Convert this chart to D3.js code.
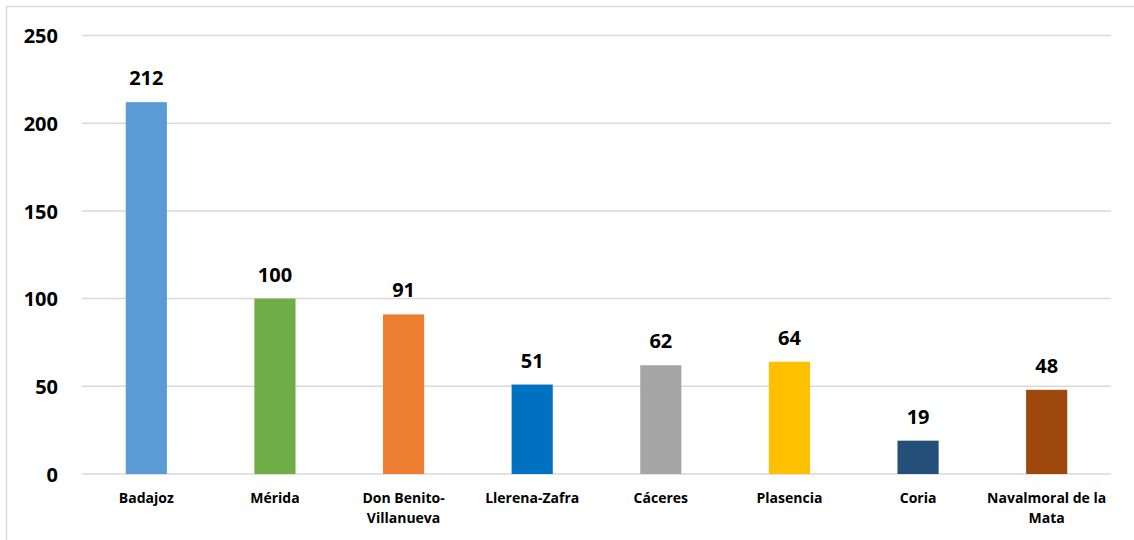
<!DOCTYPE html>
<html>
<head>
<meta charset="utf-8">
<script src="https://cdn.jsdelivr.net/npm/d3@7/dist/d3.min.js"></script>
<style>
  body { margin: 0; background: #fff; }
  svg { display: block; font-family: "Open Sans", sans-serif; }
</style>
</head>
<body>
<svg id="chart"></svg>
<script>
var categories = ['Badajoz', 'Mérida', 'Don Benito-Villanueva', 'Llerena-Zafra', 'Cáceres', 'Plasencia', 'Coria', 'Navalmoral de la Mata'];
var labelLines = [['Badajoz'], ['Mérida'], ['Don Benito-', 'Villanueva'], ['Llerena-Zafra'], ['Cáceres'], ['Plasencia'], ['Coria'], ['Navalmoral de la', 'Mata']];
var values = [212, 100, 91, 51, 62, 64, 19, 48];
var colors = ['#5B9BD5', '#70AD47', '#ED7D31', '#0070C0', '#A5A5A5', '#FFC000', '#234F79', '#9E480E'];
var yTicks = [0, 50, 100, 150, 200, 250];

var W = 1134, H = 540;
var margin = {top: 35.5, right: 23, bottom: 66, left: 82};

var svg = d3.select('#chart')
	.attr('width', W)
	.attr('height', H);

// chart frame (only left and top visible in the original)
svg.append('rect')
	.attr('x', 6.5).attr('y', 6.5)
	.attr('width', W + 20).attr('height', H + 20)
	.attr('fill', 'none')
	.attr('stroke', '#D9D9D9')
	.attr('stroke-width', 1.5);

var x = d3.scaleBand()
	.domain(categories)
	.range([margin.left, W - margin.right])
	.paddingInner(0.68)
	.paddingOuter(0.34);

var y = d3.scaleLinear()
	.domain([0, 250])
	.range([H - margin.bottom, margin.top]);

// gridlines
svg.append('g')
	.selectAll('line')
	.data(yTicks)
	.join('line')
	.attr('x1', margin.left)
	.attr('x2', W - margin.right)
	.attr('y1', function (d) { return y(d); })
	.attr('y2', function (d) { return y(d); })
	.attr('stroke', '#D9D9D9')
	.attr('stroke-width', 1.5);

// y axis labels
var yAxis = d3.axisLeft(y).tickValues(yTicks).tickSize(0).tickPadding(0);
var gy = svg.append('g')
	.attr('transform', 'translate(58,0)')
	.call(yAxis);
gy.select('.domain').remove();
gy.selectAll('text')
	.attr('font-family', '"Open Sans", sans-serif')
	.attr('font-size', 20)
	.attr('font-weight', 700)
	.attr('fill', '#000')
	.attr('dy', '0.36em');

// bars
svg.append('g')
	.selectAll('rect')
	.data(values)
	.join('rect')
	.attr('x', function (d, i) { return x(categories[i]); })
	.attr('y', function (d) { return y(d); })
	.attr('width', x.bandwidth())
	.attr('height', function (d) { return y(0) - y(d); })
	.attr('fill', function (d, i) { return colors[i]; });

// value labels
svg.append('g')
	.selectAll('text')
	.data(values)
	.join('text')
	.attr('x', function (d, i) { return x(categories[i]) + x.bandwidth() / 2; })
	.attr('y', function (d) { return y(d) - 17; })
	.attr('text-anchor', 'middle')
	.attr('font-size', 20)
	.attr('font-weight', 700)
	.attr('fill', '#000')
	.text(function (d) { return d; });

// category labels
var gx = svg.append('g');
categories.forEach(function (c, i) {
	var t = gx.append('text')
		.attr('x', x(c) + x.bandwidth() / 2)
		.attr('y', y(0) + 28.5)
		.attr('text-anchor', 'middle')
		.attr('font-size', 14)
		.attr('font-weight', 700)
		.attr('fill', '#000');
	labelLines[i].forEach(function (ln, j) {
		t.append('tspan')
			.attr('x', x(c) + x.bandwidth() / 2)
			.attr('dy', j === 0 ? 0 : 20.5)
			.text(ln);
	});
});
</script>
</body>
</html>
